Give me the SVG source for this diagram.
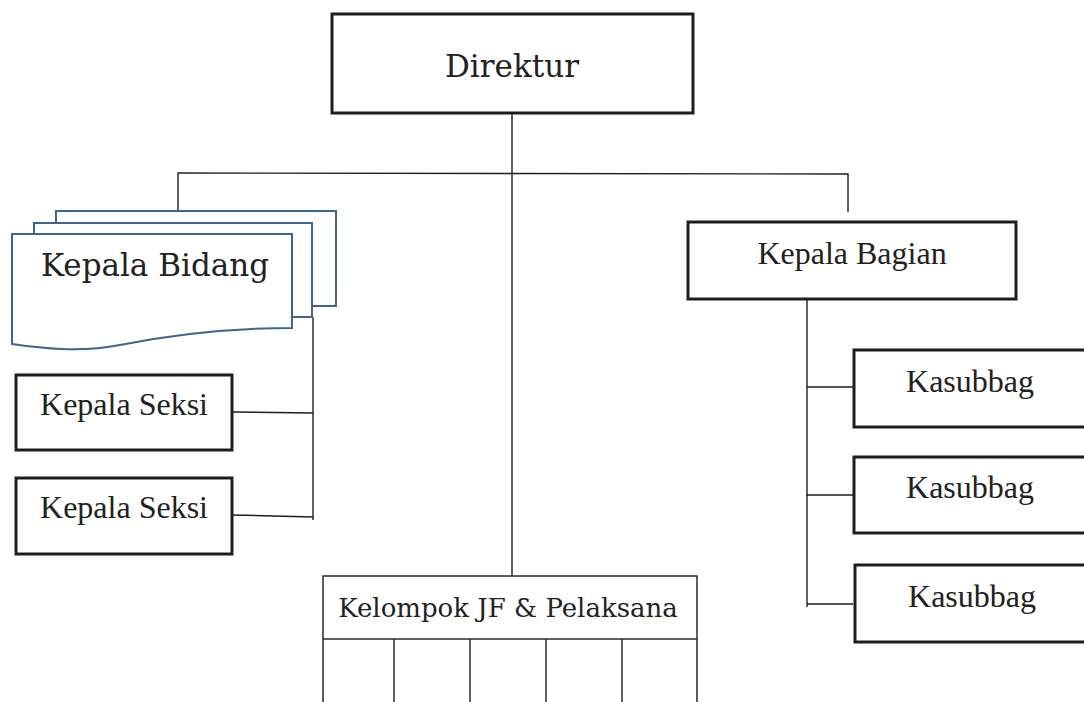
<svg xmlns="http://www.w3.org/2000/svg" width="1084" height="702" viewBox="0 0 1084 702">
<style>
.box{fill:#fff;stroke:#1e1e1e;stroke-width:3}
.thin{fill:#fff;stroke:#2a2a2a;stroke-width:1.5}
.doc{fill:#fff;stroke:#3d6590;stroke-width:2}
.conn{fill:none;stroke:#1e1e1e;stroke-width:1.4}
.bk{font-family:"DejaVu Serif",serif;fill:#222;text-anchor:middle}
.tm{font-family:"Liberation Serif",serif;fill:#222;text-anchor:middle;font-size:32px}
</style>
<rect width="1084" height="702" fill="#fff"/>
<g id="connectors">
<line class="conn" x1="512" y1="114" x2="512" y2="576"/>
<polyline class="conn" points="178,211 178,173 848,174 848,212"/>
<line class="conn" x1="313" y1="317" x2="313" y2="520"/>
<line class="conn" x1="233" y1="412" x2="313" y2="413"/>
<line class="conn" x1="233" y1="515" x2="313" y2="517"/>
<line class="conn" x1="807" y1="299" x2="807" y2="607"/>
<line class="conn" x1="807" y1="387" x2="853" y2="387"/>
<line class="conn" x1="806" y1="495" x2="853" y2="495"/>
<line class="conn" x1="807" y1="604" x2="853" y2="604"/>
</g>
<g id="direktur">
<rect class="box" x="332" y="14" width="361" height="99"/>
<text class="bk" x="512" y="77" font-size="31">Direktur</text>
</g>
<g id="kepala-bidang">
<rect class="doc" x="56" y="211" width="280" height="95"/>
<rect class="doc" x="34" y="223" width="278" height="94"/>
<path class="doc" d="M12,234 H292 V328 C230,328 170,335 120,345 C80,353 40,348 12,344 Z"/>
<text class="bk" x="155" y="276" font-size="31">Kepala Bidang</text>
</g>
<g id="kepala-seksi-1">
<rect class="box" x="16" y="375" width="216" height="75"/>
<text class="tm" x="124" y="415">Kepala Seksi</text>
</g>
<g id="kepala-seksi-2">
<rect class="box" x="16" y="478" width="216" height="76"/>
<text class="tm" x="124" y="518">Kepala Seksi</text>
</g>
<g id="kepala-bagian">
<rect class="box" x="688" y="222" width="328" height="77"/>
<text class="tm" x="852" y="264">Kepala Bagian</text>
</g>
<g id="kasubbag-1">
<rect class="box" x="854" y="350" width="240" height="77"/>
<text class="tm" x="970" y="392" font-size="31">Kasubbag</text>
</g>
<g id="kasubbag-2">
<rect class="box" x="854" y="457" width="240" height="76"/>
<text class="tm" x="970" y="498" font-size="31">Kasubbag</text>
</g>
<g id="kasubbag-3">
<rect class="box" x="855" y="565" width="240" height="77"/>
<text class="tm" x="972" y="607" font-size="31">Kasubbag</text>
</g>
<g id="kelompok-jf">
<rect class="thin" x="323" y="576" width="374" height="140"/>
<line class="thin" x1="323" y1="639" x2="697" y2="639"/>
<line class="thin" x1="394" y1="639" x2="394" y2="702"/>
<line class="thin" x1="470" y1="639" x2="470" y2="702"/>
<line class="thin" x1="546" y1="639" x2="546" y2="702"/>
<line class="thin" x1="622" y1="639" x2="622" y2="702"/>
<text class="bk" x="508" y="617" font-size="26">Kelompok JF &amp; Pelaksana</text>
</g>
</svg>
